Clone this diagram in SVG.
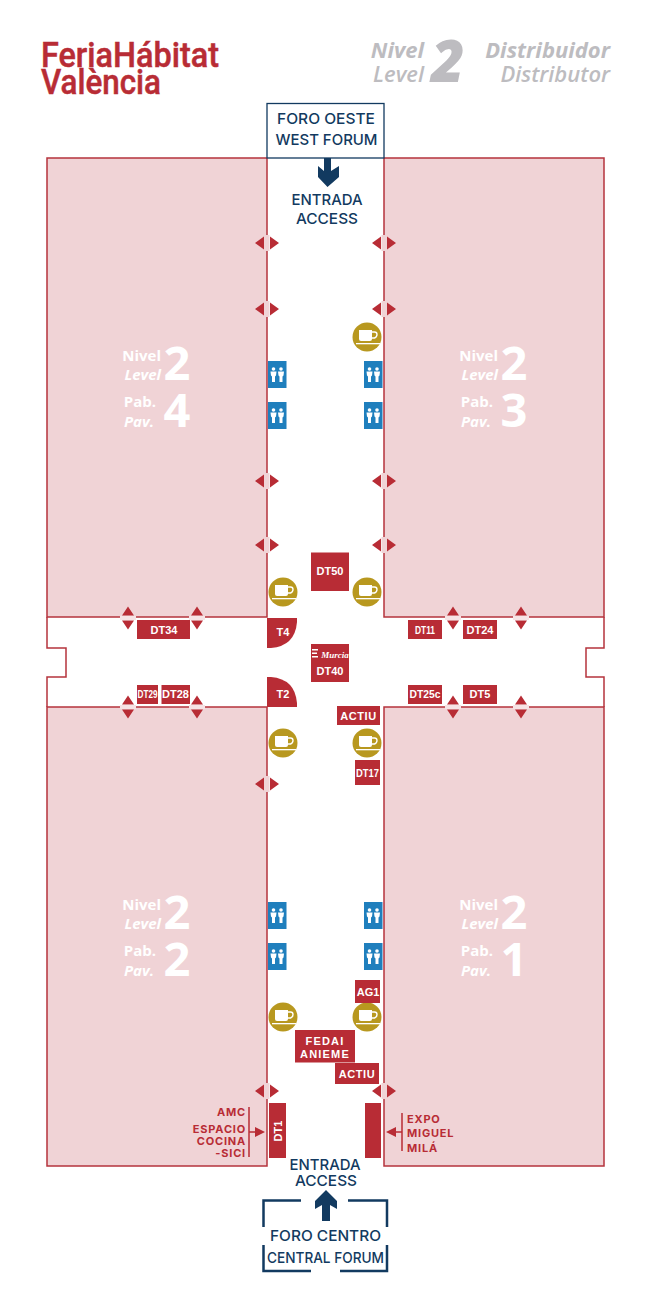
<svg xmlns="http://www.w3.org/2000/svg" width="650" height="1300" viewBox="0 0 650 1300">
<style>
text{font-family:"Liberation Sans",Arial,sans-serif}
.pav{fill:#f0d3d6;stroke:#b5333c;stroke-width:1.5}
.wall{fill:none;stroke:#b5333c;stroke-width:1.5}
.st{fill:#b82c35}
.sl{fill:#fff;font-weight:700;font-size:11px;text-anchor:middle}
.navy{fill:#123a60;font-family:Inter,"Liberation Sans",sans-serif;font-weight:500;text-anchor:middle;font-size:15px}
.nl{fill:none;stroke:#123a60;stroke-width:2.500}
.red{fill:#b82c35;font-family:Inter,"Liberation Sans",sans-serif;font-weight:700;font-size:11px;letter-spacing:.8px}
.rl{fill:none;stroke:#b82c35;stroke-width:1.5}
.hd{fill:#bdbcc0;font-family:"Open Sans","Noto Sans",sans-serif;font-weight:700;font-style:italic;font-size:22px;text-anchor:end}
.pl{fill:#fff;font-family:"Open Sans","Noto Sans",sans-serif;font-weight:700;font-size:15px;text-anchor:end}
.pi{font-style:italic}
.pn{fill:#fff;font-family:"Open Sans","Noto Sans",sans-serif;font-weight:700;font-size:47px;text-anchor:middle}
.logo{fill:#b82c35;stroke:#b82c35;stroke-width:.5;font-family:Roboto,"Liberation Sans",sans-serif;font-weight:500;font-size:35px}
</style>
<defs>
<g id="ah"><rect x="-2.5" y="-8" width="5" height="16" fill="#f0d3d6"/><path d="M-3 -6.500V6.500L-12 0Z M3 -6.500V6.500L12 0Z" fill="#b82c35"/></g>
<g id="av"><rect x="-8" y="-2" width="16" height="4" fill="#f6e3e5"/><path d="M-6 -2.500H6L0 -11.500Z M-6 2.500H6L0 11.500Z" fill="#b82c35"/></g>
<g id="cafe"><circle r="14.500" fill="#b8981f"/><path d="M-8 -7H5V2Q5 4 3 4H-6Q-8 4 -8 2Z" fill="#fff"/><path d="M5 -5H7.500Q10 -5 10 -2.500T7.500 1H5" fill="none" stroke="#fff" stroke-width="1.400"/><rect x="-11" y="6" width="24" height="1.300" fill="#fff"/></g>
<g id="wc"><rect width="18.500" height="27" fill="#1f7fbd"/><g fill="#fff"><circle cx="5.500" cy="8" r="1.800"/><circle cx="13" cy="8" r="1.800"/><path d="M2.500 10.500H8.500L8 14.500L7 15.500V21H4V15.500L3 14.500Z M10 10.500H16L15.500 14.500L14.500 15.500V21H11.500V15.500L10.500 14.500Z"/></g></g>
</defs>
<rect width="650" height="1300" fill="#fff"/>

<g id="logo">
<text class="logo" x="41" y="67" textLength="178" lengthAdjust="spacingAndGlyphs">FeriaHábitat</text>
<text class="logo" x="41" y="94" textLength="120" lengthAdjust="spacingAndGlyphs">València</text>
</g>
<g id="header">
<text class="hd" x="424" y="58">Nivel</text>
<text class="hd" x="424" y="82" style="font-weight:600">Level</text>
<text x="431" y="82" fill="#bdbcc0" style="font-family:'Open Sans','Noto Sans',sans-serif;font-weight:800;font-style:italic;font-size:58px">2</text>
<text class="hd" x="610" y="58">Distribuidor</text>
<text class="hd" x="610" y="82" style="font-weight:600">Distributor</text>
</g>

<g id="pav4"><rect class="pav" x="47" y="158" width="220" height="459"/>
<text class="pl" x="161" y="361">Nivel</text><text class="pl pi" x="161" y="380">Level</text><text class="pn" x="177" y="380">2</text>
<text class="pl" x="156" y="407">Pab.</text><text class="pl pi" x="154" y="427">Pav.</text><text class="pn" x="177" y="427">4</text></g>
<g id="pav3"><rect class="pav" x="384" y="158" width="220" height="459"/>
<text class="pl" x="498" y="361">Nivel</text><text class="pl pi" x="498" y="380">Level</text><text class="pn" x="514" y="380">2</text>
<text class="pl" x="493" y="407">Pab.</text><text class="pl pi" x="491" y="427">Pav.</text><text class="pn" x="514" y="427">3</text></g>
<g id="pav2"><rect class="pav" x="47" y="707" width="220" height="459"/>
<text class="pl" x="161" y="910">Nivel</text><text class="pl pi" x="161" y="929">Level</text><text class="pn" x="177" y="929">2</text>
<text class="pl" x="156" y="956">Pab.</text><text class="pl pi" x="154" y="976">Pav.</text><text class="pn" x="177" y="976">2</text></g>
<g id="pav1"><rect class="pav" x="384" y="707" width="220" height="459"/>
<text class="pl" x="498" y="910">Nivel</text><text class="pl pi" x="498" y="929">Level</text><text class="pn" x="514" y="929">2</text>
<text class="pl" x="493" y="956">Pab.</text><text class="pl pi" x="491" y="976">Pav.</text><text class="pn" x="514" y="976">1</text></g>
<g id="corridor-walls">
<path class="wall" d="M47 617V648H66V677H47V707"/>
<path class="wall" d="M604 617V648H586V677H604V707"/>
</g>

<g id="connectors">
<path style="fill:#123a60" d="M324 158H331V171L339 166V177L327.500 187L318 177V166L324 171Z"/>
<path style="fill:#123a60" d="M322 1221H330V1205L337 1209V1201L326 1190L315 1201V1209L322 1205Z"/>
<path class="rl" d="M249 1107V1157M249 1132H257"/>
<path class="st" d="M255 1127L265 1132L255 1137Z"/>
<path class="rl" d="M402 1113V1151M402 1132H394"/>
<path class="st" d="M396 1127L386 1132L396 1137Z"/>
<use href="#ah" x="267" y="243"/><use href="#ah" x="267" y="309"/><use href="#ah" x="267" y="481"/><use href="#ah" x="267" y="545"/><use href="#ah" x="267" y="784"/><use href="#ah" x="267" y="1091"/>
<use href="#ah" x="384" y="243"/><use href="#ah" x="384" y="309"/><use href="#ah" x="384" y="481"/><use href="#ah" x="384" y="545"/><use href="#ah" x="384" y="1091"/>
<use href="#av" x="128" y="618"/><use href="#av" x="197" y="618"/><use href="#av" x="453" y="618"/><use href="#av" x="521" y="618"/>
<use href="#av" x="128" y="707"/><use href="#av" x="197" y="707"/><use href="#av" x="453" y="707"/><use href="#av" x="521" y="707"/>
</g>

<g id="foro-oeste"><rect x="267" y="103.500" width="117" height="54.500" fill="#fff" stroke="#123a60" stroke-width="1.300"/>
<text class="navy" x="326" y="124" textLength="98" lengthAdjust="spacingAndGlyphs">FORO OESTE</text><text class="navy" x="326.500" y="145" textLength="102" lengthAdjust="spacingAndGlyphs">WEST FORUM</text></g>
<g id="entrada-oeste"><text class="navy" x="327" y="205" textLength="71" lengthAdjust="spacingAndGlyphs">ENTRADA</text><text class="navy" x="327" y="224" textLength="62" lengthAdjust="spacingAndGlyphs">ACCESS</text></g>
<g id="entrada-centro"><text class="navy" x="325" y="1170" textLength="71" lengthAdjust="spacingAndGlyphs">ENTRADA</text><text class="navy" x="326" y="1186" textLength="62" lengthAdjust="spacingAndGlyphs">ACCESS</text></g>
<g id="foro-centro">
<path class="nl" d="M263.500 1227V1200.500H301M348 1200.500H387V1227M263.500 1245V1271H311M340 1271H387V1245"/>
<text class="navy" x="325.500" y="1241" textLength="111" lengthAdjust="spacingAndGlyphs">FORO CENTRO</text>
<text class="navy" x="325.500" y="1263" textLength="117" lengthAdjust="spacingAndGlyphs">CENTRAL FORUM</text></g>

<g id="cafes"><use href="#cafe" x="367" y="337"/><use href="#cafe" x="283" y="592"/><use href="#cafe" x="367" y="592"/><use href="#cafe" x="283" y="743"/><use href="#cafe" x="367" y="743"/><use href="#cafe" x="283" y="1017"/><use href="#cafe" x="367" y="1017"/></g>
<g id="wcs"><use href="#wc" x="268" y="361"/><use href="#wc" x="268" y="402"/><use href="#wc" x="364" y="361"/><use href="#wc" x="364" y="402"/><use href="#wc" x="268" y="902"/><use href="#wc" x="268" y="943"/><use href="#wc" x="364" y="902"/><use href="#wc" x="364" y="943"/></g>

<g id="dt50"><rect class="st" x="311" y="552.500" width="38" height="38.500"/><text class="sl" x="330" y="575">DT50</text></g>
<g id="dt40"><rect class="st" x="311" y="644" width="38" height="38"/><path d="M312 649H318V650.500H312ZM312 652.500H317V654H312ZM312 656H318V657.500H312Z" fill="#fff"/><text x="335" y="658" fill="#fff" text-anchor="middle" style="font-family:'Liberation Serif',serif;font-style:italic;font-weight:700;font-size:9px">Murcia</text><text class="sl" x="330" y="675">DT40</text></g>
<g id="t4"><path class="st" d="M267 618H297V622Q295 646 271 648H267Z"/><text class="sl" x="283" y="636">T4</text></g>
<g id="t2"><path class="st" d="M267 677H271Q295 679 297 703V707H267Z"/><text class="sl" x="283" y="698">T2</text></g>
<g id="actiu-1"><rect class="st" x="337" y="706" width="43" height="19"/><text class="sl" x="358.500" y="720" style="letter-spacing:.6px">ACTIU</text></g>
<g id="dt17"><rect class="st" x="355" y="760" width="25" height="25"/><text class="sl" x="367.500" y="777" textLength="23" lengthAdjust="spacingAndGlyphs">DT17</text></g>
<g id="ag1"><rect class="st" x="355" y="980" width="25" height="23"/><text class="sl" x="368" y="996">AG1</text></g>
<g id="fedai"><rect class="st" x="295" y="1030" width="60" height="32.500"/><text class="sl" x="325" y="1045" style="letter-spacing:1.200px">FEDAI</text><text class="sl" x="325" y="1058" style="letter-spacing:1.200px">ANIEME</text></g>
<g id="actiu-2"><rect class="st" x="335" y="1063" width="44" height="21"/><text class="sl" x="357" y="1078" style="letter-spacing:.6px">ACTIU</text></g>
<g id="dt1"><rect class="st" x="269" y="1103" width="17" height="55"/><text class="sl" transform="translate(281.500 1131) rotate(-90)">DT1</text></g>
<g id="miguel-mila-stand"><rect class="st" x="365" y="1103" width="16" height="55"/></g>
<g id="dt34"><rect class="st" x="137" y="620" width="53" height="19"/><text class="sl" x="164" y="633.500">DT34</text></g>
<g id="dt29"><rect class="st" x="137" y="685" width="21" height="19"/><text class="sl" x="147.500" y="698" textLength="20" lengthAdjust="spacingAndGlyphs">DT29</text></g>
<g id="dt28"><rect class="st" x="161.500" y="685" width="28.500" height="19"/><text class="sl" x="175.500" y="698">DT28</text></g>
<g id="dt11"><rect class="st" x="408" y="620" width="34" height="19"/><text class="sl" x="425" y="633.500" textLength="20" lengthAdjust="spacingAndGlyphs">DT11</text></g>
<g id="dt24"><rect class="st" x="463" y="620" width="34" height="19"/><text class="sl" x="480" y="633.500">DT24</text></g>
<g id="dt25c"><rect class="st" x="408" y="685" width="34" height="19"/><text class="sl" x="425" y="698" textLength="31" lengthAdjust="spacingAndGlyphs">DT25c</text></g>
<g id="dt5"><rect class="st" x="463" y="685" width="34" height="19"/><text class="sl" x="480" y="698">DT5</text></g>

<g id="label-amc">
<text class="red" x="246" y="1116" text-anchor="end">AMC</text>
<text class="red" x="246" y="1133" text-anchor="end">ESPACIO</text>
<text class="red" x="246" y="1145" text-anchor="end">COCINA</text>
<text class="red" x="246" y="1157" text-anchor="end">-SICI</text>
</g>
<g id="label-expo">
<text class="red" x="407" y="1123">EXPO</text>
<text class="red" x="407" y="1137">MIGUEL</text>
<text class="red" x="407" y="1152">MILÁ</text>
</g>
</svg>
